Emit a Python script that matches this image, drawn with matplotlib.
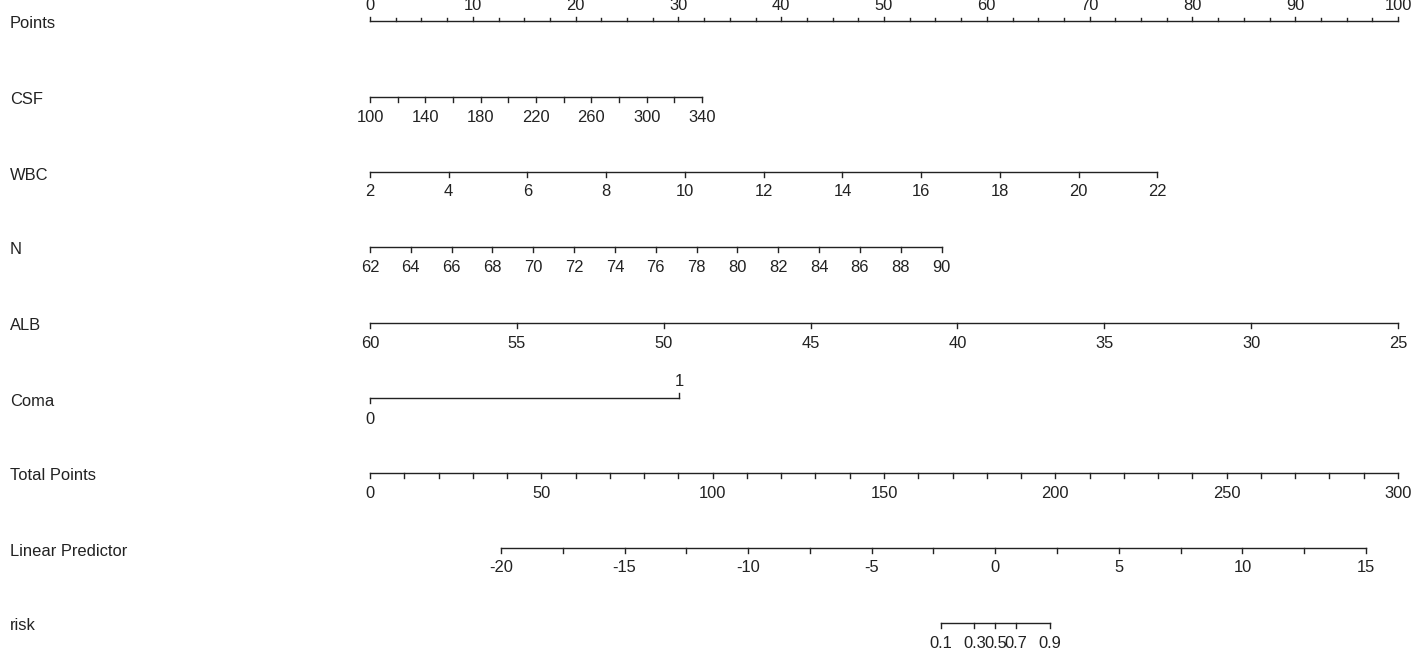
import numpy as np
import matplotlib.pyplot as plt

plt.rcParams['font.family'] = ['Liberation Sans', 'DejaVu Sans']

# variable scales: values and the points they are worth
csf_vals = [100, 120, 140, 160, 180, 200, 220, 240, 260, 280, 300, 320, 340]
csf_labels = [100, 140, 180, 220, 260, 300, 340]
csf_max_pts = 32.3

wbc_vals = [2, 4, 6, 8, 10, 12, 14, 16, 18, 20, 22]
wbc_max_pts = 76.6

n_vals = [62, 64, 66, 68, 70, 72, 74, 76, 78, 80, 82, 84, 86, 88, 90]
n_max_pts = 55.6

alb_vals = [60, 55, 50, 45, 40, 35, 30, 25]
alb_max_pts = 100.0

coma_vals = [0, 1]
coma_pts = [0, 30.1]

total_ticks = list(range(0, 301, 10))
total_labels = [0, 50, 100, 150, 200, 250, 300]

lp_ticks = list(np.arange(-20, 15.1, 2.5))
lp_labels = [-20, -15, -10, -5, 0, 5, 10, 15]
lp_tp_at_min = 38.23   # total points where LP = -20
lp_tp_slope = 7.212    # total points per LP unit

risk_vals = [0.1, 0.3, 0.5, 0.7, 0.9]

fig = plt.figure(figsize=(14.17, 6.5), dpi=100)
ax = fig.add_axes([0, 0, 1, 1])
px = 10.28
ax.set_xlim(-370 / px, (1417 - 370) / px)
ax.set_ylim(650, 0)
ax.axis('off')

col = '#222222'
fs = 11.9


def lin(vals, v0, v1, p1):
    vals = np.asarray(vals, dtype=float)
    return (vals - v0) / (v1 - v0) * p1


def scale(y, tick_pos, lab_pos, labels, up=False, tl=5):
    ax.plot([min(tick_pos), max(tick_pos)], [y, y], color=col, lw=1.0)
    d = -tl if up else tl
    for x in tick_pos:
        ax.plot([x, x], [y, y + d], color=col, lw=1.0)
    for x, t in zip(lab_pos, labels):
        ax.text(x, y - 17 if up else y + 20, str(t), ha='center', va='center',
                fontsize=fs, color=col)


def name(y, s):
    ax.text(-360 / px, y + 3, s, ha='left', va='center', fontsize=fs, color=col)


# Points
pts_ticks = np.arange(0, 100.1, 2.5)
ax.plot([0, 100], [21, 21], color=col, lw=1.0)
for x in pts_ticks:
    ax.plot([x, x], [21, 21 - (4 if x % 10 == 0 else 3)], color=col, lw=1.0)
for x in range(0, 101, 10):
    ax.text(x, 6, str(x), ha='center', va='center', fontsize=fs, color=col)
name(21, 'Points')

# CSF
scale(97, lin(csf_vals, 100, 340, csf_max_pts), lin(csf_labels, 100, 340, csf_max_pts), csf_labels)
name(97, 'CSF')

# WBC
scale(172, lin(wbc_vals, 2, 22, wbc_max_pts), lin(wbc_vals, 2, 22, wbc_max_pts), wbc_vals)
name(172, 'WBC')

# N
scale(247, lin(n_vals, 62, 90, n_max_pts), lin(n_vals, 62, 90, n_max_pts), n_vals)
name(247, 'N')

# ALB
scale(323, lin(alb_vals, 60, 25, alb_max_pts), lin(alb_vals, 60, 25, alb_max_pts), alb_vals)
name(323, 'ALB')

# Coma
yc = 398
ax.plot([coma_pts[0], coma_pts[1]], [yc, yc], color=col, lw=1.0)
ax.plot([coma_pts[0]] * 2, [yc, yc + 5], color=col, lw=1.0)
ax.plot([coma_pts[1]] * 2, [yc, yc - 5], color=col, lw=1.0)
ax.text(coma_pts[0], yc + 21, str(coma_vals[0]), ha='center', va='center', fontsize=fs, color=col)
ax.text(coma_pts[1], yc - 16, str(coma_vals[1]), ha='center', va='center', fontsize=fs, color=col)
name(yc, 'Coma')

# Total Points
tp = lambda v: np.asarray(v, dtype=float) / 3.0
scale(473, tp(total_ticks), tp(total_labels), total_labels)
name(473, 'Total Points')

# Linear Predictor
lp_to_pts = lambda v: tp(lp_tp_at_min + (np.asarray(v, dtype=float) + 20) * lp_tp_slope)
scale(548, lp_to_pts(lp_ticks), lp_to_pts(lp_labels), lp_labels)
name(548, 'Linear Predictor')

# risk
logit = np.log(np.array(risk_vals) / (1 - np.array(risk_vals)))
scale(623, lp_to_pts(logit), lp_to_pts(logit), risk_vals)
name(623, 'risk')

fig.savefig('out.png', dpi=100, facecolor='white')
